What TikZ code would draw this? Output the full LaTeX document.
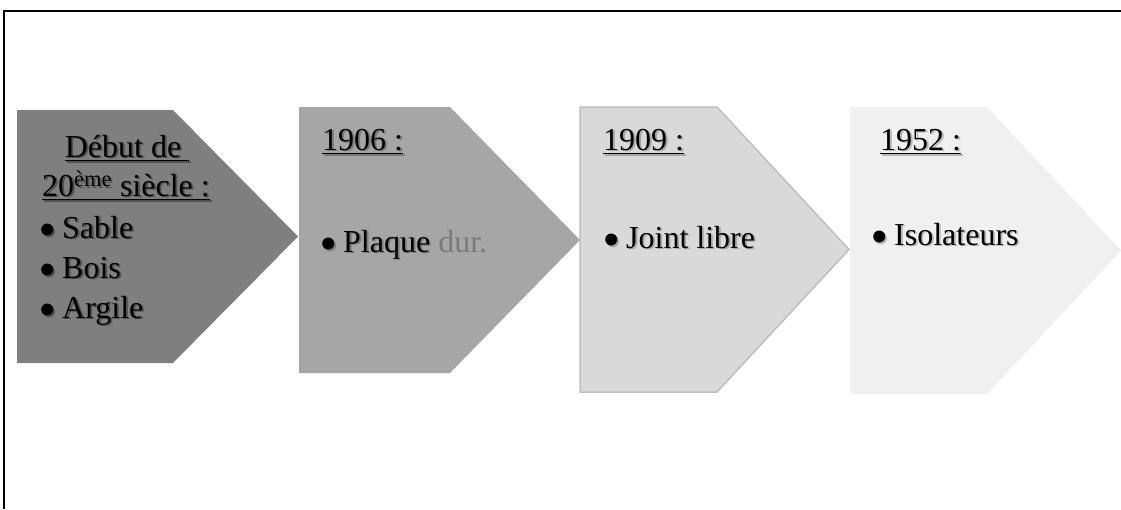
\documentclass[tikz,border=0pt]{standalone}
\usepackage{fontspec}
\setmainfont{Liberation Serif}
\newcommand\ulx[1]{\setbox0\hbox{#1}\rlap{\rule[-4pt]{\wd0}{1.5pt}}\box0}
\newcommand\shd[2]{\rlap{\raisebox{-1.8pt}{\kern1.8pt\color{#1}#2}}#2}
\newcommand\blt{\tikz[baseline=0pt]{\fill (6pt,8.5pt) circle[radius=6pt]; \useasboundingbox (0pt,0pt) rectangle (13pt,1pt);}}
\definecolor{fillA}{HTML}{7F7F7F}
\definecolor{fillB}{HTML}{A6A6A6}
\definecolor{fillC}{HTML}{D9D9D9}
\definecolor{lineC}{HTML}{BFBFBF}
\definecolor{fillD}{HTML}{F0F0F0}
\definecolor{durgray}{HTML}{7A7A7A}
\begin{document}
\begin{tikzpicture}[x=1pt,y=-1pt,
  txt/.style={inner sep=0pt, font=\fontsize{32}{40}\selectfont, anchor=base west, text=black},
  ctxt/.style={txt, anchor=base}]
\useasboundingbox (0,0) rectangle (1121,509);
\fill[white] (0,0) rectangle (1121,509);
% frame
\coordinate (fbl) at (4,509);
\coordinate (ftl) at (4,11);
\coordinate (ftr) at (1121,11);
\draw[line width=2pt] (fbl) -- (ftl) -- (ftr);
% chevrons
\fill[fillA] (17,110) -- (173,110) -- (298,236.5) -- (173,363) -- (17,363) -- cycle;
\fill[fillB] (299,107) -- (450,107) -- (580,240) -- (450,373) -- (299,373) -- cycle;
\filldraw[fill=fillC, draw=lineC, line width=1.5pt] (580,107) -- (717,107) -- (849,249.5) -- (717,392) -- (580,392) -- cycle;
\fill[fillD] (850,107) -- (987,107) -- (1121,250.5) -- (987,394) -- (850,394) -- cycle;
% texts chevron 1
\node[ctxt] (h1a) at (127,157) {\shd{black!68}{\ulx{Début de\ }}};
\node[ctxt] (h1b) at (126,196) {\shd{black!68}{\ulx{20\textsuperscript{ème} siècle :}}};
\node[txt] (s1) at (41,238) {\shd{black!68}{\blt\ Sable}};
\node[txt] (b1) at (41,278) {\shd{black!68}{\blt\ Bois}};
\node[txt] (a1) at (41,318) {\shd{black!68}{\blt\ Argile}};
% chevron 2
\node[txt] (y2) at (322,150) {\shd{black!52}{\ulx{1906 :}}};
\node[txt] (p2) at (322,252) {\shd{black!52}{\blt\ Plaque} {\color{durgray}dur.}};
% chevron 3
\node[txt] (y3) at (603,150) {\shd{black!35}{\ulx{1909 :}}};
\node[txt] (j3) at (605,248) {\shd{black!35}{\blt\ Joint libre}};
% chevron 4
\node[txt] (y4) at (880,150) {\shd{black!28}{\ulx{1952 :}}};
\node[txt] (i4) at (873,245) {\shd{black!28}{\blt\ Isolateurs}};
\end{tikzpicture}
\end{document}
